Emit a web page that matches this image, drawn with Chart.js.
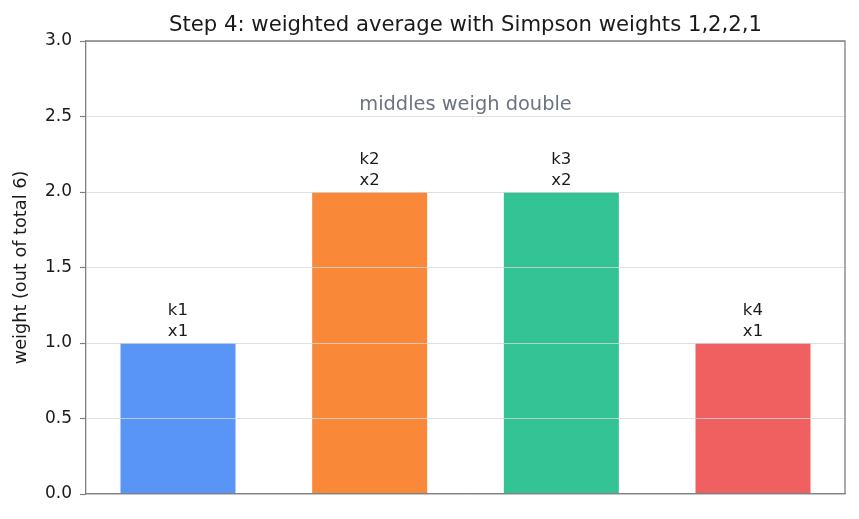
<!DOCTYPE html>
<html>
<head>
<meta charset="utf-8">
<script src="https://cdn.jsdelivr.net/npm/chart.js@4/dist/chart.umd.min.js"></script>
<style>
  html, body { margin: 0; padding: 0; background: #fff; }
  #wrap { width: 859px; height: 519px; }
</style>
</head>
<body>
<div id="wrap"><canvas id="chart" width="859" height="519"></canvas></div>
<script>
// Simpson weights for the four RK slopes
const categories = ['k1', 'k2', 'k3', 'k4'];
const weights = [1, 2, 2, 1];
const multipliers = ['x1', 'x2', 'x2', 'x1'];
const barColors = ['rgba(59,130,246,0.85)', 'rgba(249,115,22,0.85)', 'rgba(16,185,129,0.85)', 'rgba(239,68,68,0.85)'];
const titleText = 'Step 4: weighted average with Simpson weights 1,2,2,1';
const noteText = 'middles weigh double';
const noteY = 2.54;

const FONT = "'DejaVu Sans', sans-serif";
const SPINE = '#808080';

const overlay = {
  id: 'overlay',
  afterDraw(chart) {
    const { ctx, chartArea: a, scales: { x, y } } = chart;
    const midX = (a.left + a.right) / 2;
    ctx.save();
    // title, centred over the plot area
    ctx.font = '21.2px ' + FONT;
    ctx.fillStyle = '#1a1a1a';
    ctx.textAlign = 'center';
    ctx.textBaseline = 'alphabetic';
    ctx.fillText(titleText, midX, 30.5);
    // bar labels, lines left-aligned within a centred block
    ctx.font = '16.5px ' + FONT;
    ctx.textAlign = 'left';
    categories.forEach((c, i) => {
      const lines = [c, multipliers[i]];
      const w = Math.max(...lines.map(l => ctx.measureText(l).width));
      const cx = x.getPixelForValue(i);
      const base = y.getPixelForValue(weights[i]) - 7;
      ctx.fillText(lines[1], cx - w / 2, base);
      ctx.fillText(lines[0], cx - w / 2, base - 21);
    });
    // annotation
    ctx.font = '19.4px ' + FONT;
    ctx.fillStyle = '#6b7280';
    ctx.textAlign = 'center';
    ctx.fillText(noteText, midX, y.getPixelForValue(noteY));
    // top/right spines
    ctx.strokeStyle = SPINE;
    ctx.lineWidth = 1.3;
    ctx.beginPath();
    ctx.moveTo(a.left, a.top);
    ctx.lineTo(a.right, a.top);
    ctx.lineTo(a.right, a.bottom);
    ctx.stroke();
    ctx.restore();
  }
};

new Chart(document.getElementById('chart'), {
  type: 'bar',
  data: {
    datasets: [{
      data: weights.map((w, i) => ({ x: i, y: w })),
      backgroundColor: barColors,
      borderWidth: 0,
      barPercentage: 0.6,
      categoryPercentage: 1.0
    }]
  },
  options: {
    responsive: false,
    animation: false,
    layout: { padding: { left: 0, right: 14, top: 41, bottom: 25 } },
    plugins: {
      legend: { display: false },
      tooltip: { enabled: false },
      title: { display: false }
    },
    scales: {
      x: {
        type: 'linear',
        min: -0.48,
        max: 3.48,
        offset: false,
        ticks: { display: false, stepSize: 1, includeBounds: false },
        grid: { display: false, drawTicks: false },
        border: { display: true, color: SPINE, width: 1.3, z: 2 },
        afterFit(s) { s.height = 0; }
      },
      y: {
        min: 0,
        max: 3,
        ticks: {
          stepSize: 0.5,
          color: '#1a1a1a',
          padding: 8,
          font: { family: FONT, size: 17 },
          callback: v => v.toFixed(1)
        },
        grid: {
          z: 1,
          color: '#d4d7db',
          lineWidth: 0.8,
          tickColor: SPINE,
          tickLength: 6,
          tickWidth: 1.2
        },
        border: { display: true, color: SPINE, width: 1.3, z: 2 },
        title: {
          display: true,
          text: 'weight (out of total 6)',
          color: '#1a1a1a',
          font: { family: FONT, size: 17.7 },
          padding: { top: 11, bottom: 0 }
        },
        afterFit(s) { s.width = 86; }
      }
    }
  },
  plugins: [overlay]
});
</script>
</body>
</html>
